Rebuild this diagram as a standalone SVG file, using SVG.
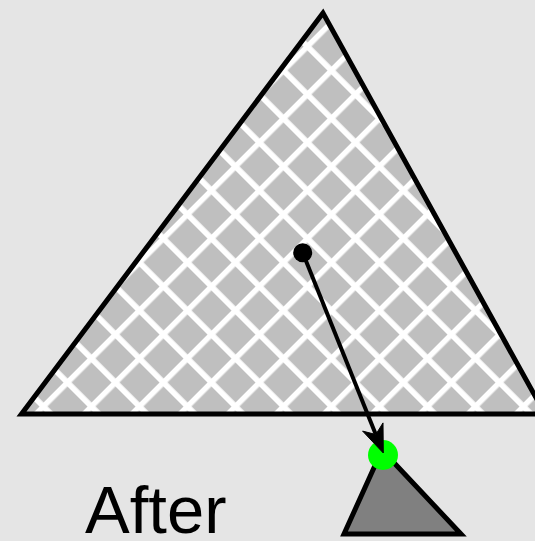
<svg xmlns="http://www.w3.org/2000/svg" width="535" height="541" viewBox="0 0 535 541">
  <style>
    .outline { stroke: #000; stroke-width: 5; stroke-linejoin: miter; stroke-miterlimit: 10; }
    .label { font-family: "Liberation Sans", Arial, sans-serif; font-size: 67px; fill: #000; }
    .hatch { stroke: #fff; stroke-width: 5.5; }
  </style>
  <defs>
    <pattern id="crosshatch" patternUnits="userSpaceOnUse" width="33.94" height="33.94" patternTransform="rotate(45)">
      <rect width="33.94" height="33.94" fill="#bfbfbf"/>
      <line class="hatch" x1="12.73" y1="-1" x2="12.73" y2="35"/>
      <line class="hatch" x1="-1" y1="19.09" x2="35" y2="19.09"/>
    </pattern>
  </defs>
  <rect width="535" height="541" fill="#e5e5e5"/>
  <g id="big-triangle">
    <polygon class="outline" points="323,13 21.5,414 545,414" fill="url(#crosshatch)"/>
  </g>
  <g id="small-triangle">
    <polygon class="outline" points="382,450 344,534 461,534" fill="#808080"/>
  </g>
  <g id="green-point">
    <circle cx="383" cy="455" r="15" fill="#00ff00"/>
  </g>
  <g id="centroid">
    <circle cx="302.7" cy="252.7" r="9.5" fill="#000"/>
  </g>
  <g id="connectors">
    <line x1="302.7" y1="252.7" x2="375.8" y2="434.5" stroke="#000" stroke-width="4"/>
    <path d="M383.3,453 L383,422.9 L375.8,434.5 L362.6,431.1 Z" fill="#000" stroke="#000" stroke-width="1" stroke-linejoin="miter"/>
  </g>
  <g id="label">
    <text class="label" x="85" y="533">After</text>
  </g>
</svg>
